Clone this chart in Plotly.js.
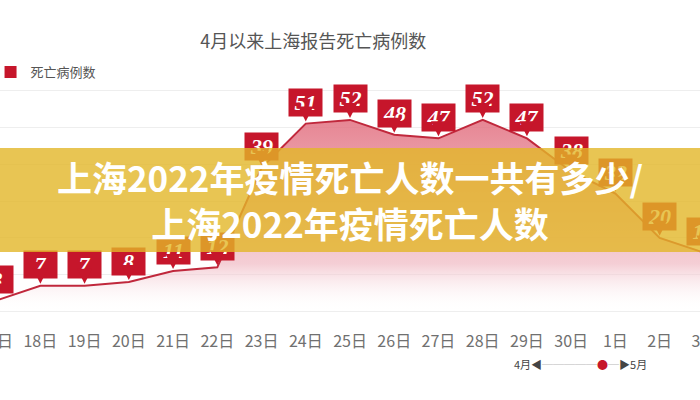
<!DOCTYPE html>
<html>
<head>
<meta charset="utf-8">
<script src="https://cdn.plot.ly/plotly-3.0.1.min.js"></script>
<style>
  html, body { margin: 0; padding: 0; width: 700px; height: 400px; overflow: hidden; background: #fff; }
  #plot { position: absolute; left: -26px; top: 0; width: 752px; height: 400px; }
  #banner {
    position: absolute; left: 0; top: 148px; width: 700px; height: 104px;
    background: rgba(226, 182, 40, 0.8);
    color: #fff; text-align: center;
    font-family: "Noto Sans CJK SC", sans-serif; font-weight: 700;
    font-size: 35px; line-height: 46px; padding-top: 6px; box-sizing: border-box;
  }
</style>
</head>
<body>
<div id="plot"></div>
<div id="banner">上海2022年疫情死亡人数一共有多少/<br>上海2022年疫情死亡人数</div>
<script>
// 4/17 - 5/3 daily deaths reported in Shanghai
const days = ['17日', '18日', '19日', '20日', '21日', '22日', '23日', '24日', '25日',
  '26日', '27日', '28日', '29日', '30日', '1日', '2日', '3日']
const deaths = [3, 7, 7, 8, 11, 12, 39, 51, 52, 48, 47, 52, 47, 38, 32, 20, 16]
const seriesName = '死亡病例数'
const chartTitle = '4月以来上海报告死亡病例数'

const red = '#c6162b'
const cjk = '"Noto Sans CJK SC", sans-serif'

const traces = [
  {
    x: days,
    y: deaths,
    type: 'scatter',
    mode: 'lines',
    fill: 'tozeroy',
    line: { color: '#c0283c', width: 2 },
    fillgradient: {
      type: 'vertical',
      start: 0,
      stop: 52,
      colorscale: [
        [0, 'rgba(255,255,255,0)'],
        [0.25, 'rgba(240,185,195,0.7)'],
        [1, 'rgba(226,112,128,0.85)']
      ]
    },
    showlegend: false,
    hoverinfo: 'skip'
  },
  // legend entry only
  {
    x: [null],
    y: [null],
    type: 'bar',
    name: seriesName,
    marker: { color: red }
  }
]

// red callout tags over each point
const tags = days.map((d, i) => ({
  x: d,
  y: deaths[i],
  text: '<b><i>' + deaths[i] + '</i></b>',
  font: { family: '"Liberation Serif", serif', size: 22, color: '#fff' },
  bgcolor: red,
  width: 31,
  height: 25,
  showarrow: true,
  ax: 0,
  ay: -21,
  arrowhead: 2,
  arrowsize: 1,
  arrowwidth: 3,
  arrowcolor: red,
  standoff: 2
}))

const timeline = {
  xref: 'paper', yref: 'paper',
  x: 0.806, xanchor: 'center', y: -0.13, yanchor: 'middle', showarrow: false,
  text: '4月◀<span style="color:#bbb">─────</span><span style="color:' + red + '">●</span><span style="color:#bbb">─</span>▶5月',
  font: { family: cjk, size: 11, color: '#444' }
}

const layout = {
  width: 752,
  height: 400,
  margin: { l: 0, r: 0, t: 72, b: 70 },
  paper_bgcolor: '#fff',
  plot_bgcolor: '#fff',
  title: {
    text: chartTitle,
    font: { family: cjk, size: 18, color: '#555' },
    xref: 'container', x: 0.451, xanchor: 'center',
    yref: 'container', y: 0.895, yanchor: 'middle'
  },
  showlegend: true,
  legend: {
    x: 0.022, xanchor: 'left', y: 1.0, yanchor: 'middle',
    font: { family: cjk, size: 13, color: '#555' },
    bgcolor: 'rgba(0,0,0,0)'
  },
  xaxis: {
    type: 'category',
    range: [-0.5, 16.5],
    showgrid: false,
    showline: false,
    ticks: '',
    tickfont: { family: cjk, size: 16, color: '#707070' },
    fixedrange: true
  },
  yaxis: {
    range: [-5, 65],
    dtick: 10,
    showticklabels: false,
    gridcolor: '#eeeeee',
    zeroline: false,
    fixedrange: true
  },
  annotations: tags.concat([timeline])
}

Plotly.newPlot('plot', traces, layout, { displayModeBar: false, staticPlot: true })
</script>
</body>
</html>
